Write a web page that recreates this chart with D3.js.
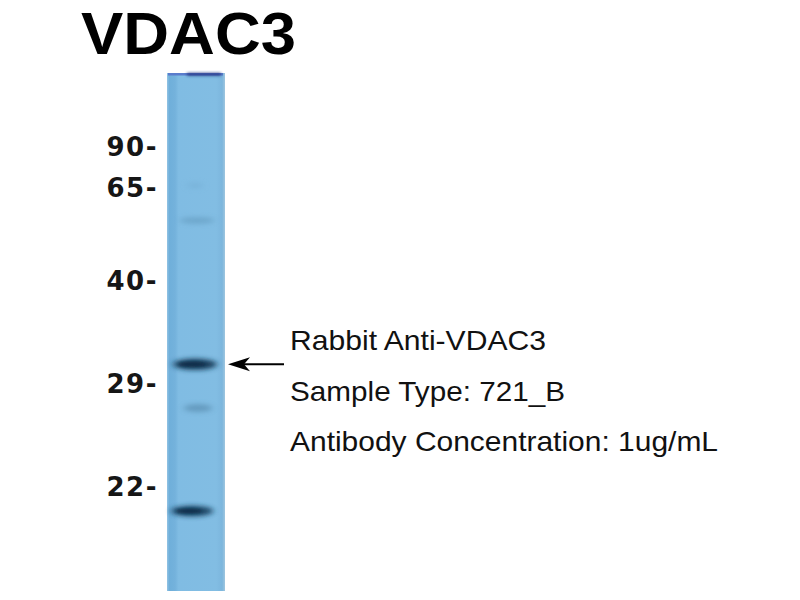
<!DOCTYPE html>
<html>
<head>
<meta charset="utf-8">
<script src="https://cdn.jsdelivr.net/npm/d3@7"></script>
<style>
  html, body { margin: 0; padding: 0; background: #ffffff; }
  svg { display: block; }
</style>
</head>
<body>
<svg id="chart" width="800" height="600"></svg>
<script>
// ---- data ----
const title = "VDAC3";
const markerValues = [90, 65, 40, 29, 22];
const markerLabels = ["90-", "65-", "40-", "29-", "22-"];
const bandMW = [66, 56, 31, 27.3, 20.3];
const bandIntensity = [0.12, 0.28, 1.0, 0.4, 0.95];
const bandWidthKDa = [0.3, 0.75, 1.0, 0.6, 0.95]; // relative lateral extent
const infoLines = ["Rabbit Anti-VDAC3", "Sample Type: 721_B", "Antibody Concentration: 1ug/mL"];
const targetMW = 31;

// ---- layout ----
const svg = d3.select("#chart");
const lane = { x0: 167, x1: 225, y0: 73, y1: 591 };

// piecewise MW -> y scale (gel migration)
const y = d3.scaleLinear()
  .domain(markerValues)
  .range([146, 187, 280, 383, 486]);

const defs = svg.append("defs");
const lg = defs.append("linearGradient").attr("id", "laneGrad")
  .attr("x1", "0%").attr("x2", "100%").attr("y1", "0%").attr("y2", "0%");
[[0, "#94c4e4"], [0.04, "#6fafda"], [0.14, "#74b2dc"], [0.2, "#80bce3"], [0.85, "#82bde3"], [0.95, "#7cb6dd"], [1, "#9fc6df"]]
  .forEach(([o, c]) => lg.append("stop").attr("offset", o).attr("stop-color", c));

const blur = defs.append("filter").attr("id", "blur")
  .attr("x", "-50%").attr("y", "-150%").attr("width", "200%").attr("height", "400%");
blur.append("feGaussianBlur").attr("stdDeviation", "3 2.6");

const blur2 = defs.append("filter").attr("id", "blurS")
  .attr("x", "-50%").attr("y", "-150%").attr("width", "200%").attr("height", "400%");
blur2.append("feGaussianBlur").attr("stdDeviation", "1.6");

// title
svg.append("text")
  .attr("x", 81).attr("y", 54)
  .attr("font-family", "Liberation Sans, Arial, sans-serif")
  .attr("font-weight", "bold")
  .attr("font-size", 60)
  .attr("textLength", 215)
  .attr("lengthAdjust", "spacingAndGlyphs")
  .attr("fill", "#000")
  .text(title);

// lane
svg.append("rect")
  .attr("x", lane.x0).attr("y", lane.y0)
  .attr("width", lane.x1 - lane.x0).attr("height", lane.y1 - lane.y0)
  .attr("fill", "url(#laneGrad)");

// top well line
svg.append("rect")
  .attr("x", lane.x0 + 1).attr("y", lane.y0)
  .attr("width", lane.x1 - lane.x0 - 3).attr("height", 2.5)
  .attr("fill", "#5a7ccc");
svg.append("rect")
  .attr("x", lane.x0 + 20).attr("y", lane.y0)
  .attr("width", 34).attr("height", 2.5)
  .attr("fill", "#1d2f7a")
  .attr("filter", "url(#blurS)");

// bands
const cx = (lane.x0 + lane.x1) / 2 - 1;
const bandColor = d3.interpolateRgb("#80bce3", "#123a58");
const g = svg.append("g");
bandMW.forEach((mw, i) => {
  const by = y(mw);
  const k = bandIntensity[i];
  const rx = 19 * bandWidthKDa[i] + 3;
  const shift = [0, 2, 0, 3, -3][i];
  g.append("ellipse")
    .attr("cx", cx + shift)
    .attr("cy", by)
    .attr("rx", rx)
    .attr("ry", 2.5 + 3 * k)
    .attr("fill", bandColor(k))
    .attr("opacity", 0.45 + 0.55 * k)
    .attr("filter", "url(#blur)");
  if (k > 0.9) {
    g.append("ellipse")
      .attr("cx", cx + shift - 3)
      .attr("cy", by)
      .attr("rx", rx * 0.6)
      .attr("ry", 2.6)
      .attr("fill", "#0c2c46")
      .attr("opacity", 0.75)
      .attr("filter", "url(#blurS)");
  }
});

// marker labels
svg.append("g").selectAll("text")
  .data(markerValues)
  .join("text")
  .attr("x", 158)
  .attr("y", d => y(d) + 9.5)
  .attr("text-anchor", "end")
  .attr("font-family", "DejaVu Sans, sans-serif")
  .attr("font-weight", "bold")
  .attr("font-size", 26)
  .attr("letter-spacing", 1.5)
  .attr("fill", "#161616")
  .text((d, i) => markerLabels[i]);

// arrow pointing at target band
const ay = y(targetMW);
svg.append("line")
  .attr("x1", 240).attr("x2", 284)
  .attr("y1", ay).attr("y2", ay)
  .attr("stroke", "#000").attr("stroke-width", 2);
svg.append("path")
  .attr("d", `M228,${ay} L250,${ay - 7} L244,${ay} L250,${ay + 7} Z`)
  .attr("fill", "#000");

// info text
svg.append("g").selectAll("text")
  .data(infoLines)
  .join("text")
  .attr("x", 290)
  .attr("y", (d, i) => 350 + i * 50.5)
  .attr("font-family", "Liberation Sans, Arial, sans-serif")
  .attr("font-size", 28)
  .attr("fill", "#111")
  .attr("textLength", (d, i) => [256, 275, 428][i])
  .attr("lengthAdjust", "spacingAndGlyphs")
  .text(d => d);
</script>
</body>
</html>
